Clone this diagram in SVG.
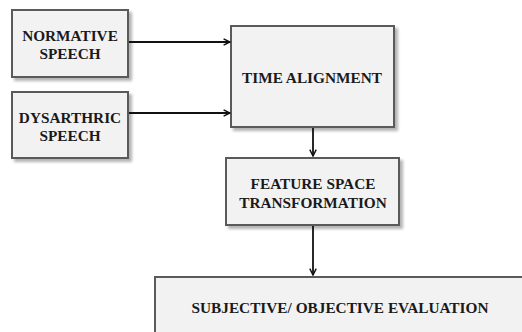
<svg xmlns="http://www.w3.org/2000/svg" width="522" height="332" viewBox="0 0 522 332">
  <defs>
    <filter id="shadow" x="-10%" y="-10%" width="130%" height="130%">
      <feGaussianBlur in="SourceAlpha" stdDeviation="1.5"/>
      <feOffset dx="2.5" dy="2.5" result="b"/>
      <feComponentTransfer><feFuncA type="linear" slope="0.3"/></feComponentTransfer>
      <feMerge><feMergeNode/><feMergeNode in="SourceGraphic"/></feMerge>
    </filter>
    <marker id="arrow" viewBox="0 0 10 10" refX="9" refY="5" markerWidth="8" markerHeight="8" markerUnits="userSpaceOnUse" orient="auto">
      <path d="M1,1 L9,5 L1,9" fill="none" stroke="#111" stroke-width="1.8"/>
    </marker>
  </defs>
  <style>
    .box { fill: #f2f2f2; stroke: #5a5a5a; stroke-width: 2; filter: url(#shadow); }
    .lbl { fill: #1a1a1a; text-anchor: middle; }
    .conn { stroke: #111; stroke-width: 1.8; fill: none; marker-end: url(#arrow); }
  </style>
  <rect width="522" height="332" fill="#ffffff"/>

  <!-- process blocks -->
  <g font-family="'Liberation Serif', 'Times New Roman', serif" font-weight="bold" font-size="15.3">
    <g id="normative">
      <rect class="box" x="12" y="10" width="116" height="67"/>
      <text class="lbl" x="70" y="41">NORMATIVE</text>
      <text class="lbl" x="70" y="59">SPEECH</text>
    </g>

    <g id="dysarthric">
      <rect class="box" x="12" y="92" width="116" height="66"/>
      <text class="lbl" x="70" y="123">DYSARTHRIC</text>
      <text class="lbl" x="70" y="141">SPEECH</text>
    </g>

    <g id="time-alignment">
      <rect class="box" x="231" y="26" width="163" height="101"/>
      <text class="lbl" x="312" y="83">TIME ALIGNMENT</text>
    </g>

    <g id="feature-space">
      <rect class="box" x="226" y="158" width="173" height="67"/>
      <text class="lbl" x="313" y="189">FEATURE SPACE</text>
      <text class="lbl" x="313" y="208">TRANSFORMATION</text>
    </g>

    <g id="evaluation">
      <rect class="box" x="155" y="277" width="380" height="70"/>
      <text class="lbl" x="340" y="313">SUBJECTIVE/ OBJECTIVE EVALUATION</text>
    </g>
  </g>

  <!-- flow arrows -->
  <g id="connectors">
    <line class="conn" x1="129" y1="42" x2="230" y2="42"/>
    <line class="conn" x1="129" y1="113" x2="230" y2="113"/>
    <line class="conn" x1="313" y1="128" x2="313" y2="156"/>
    <line class="conn" x1="313" y1="226" x2="313" y2="275"/>
  </g>
</svg>
